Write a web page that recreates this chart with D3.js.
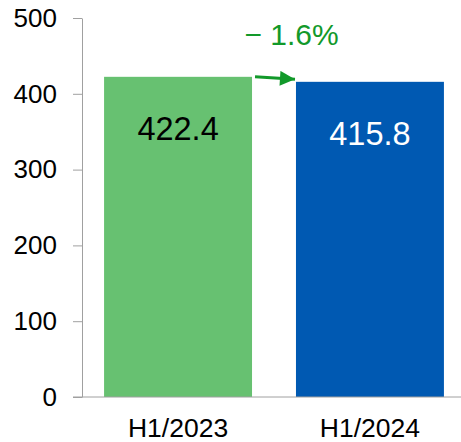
<!DOCTYPE html>
<html>
<head>
<meta charset="utf-8">
<script src="https://cdn.jsdelivr.net/npm/d3@7"></script>
<style>
  body { margin: 0; background: #fff; }
  svg { display: block; font-family: "Liberation Sans", Arial, sans-serif; }
</style>
</head>
<body>
<div id="chart"></div>
<script>
const categories = ["H1/2023", "H1/2024"];
const values = [422.4, 415.8];
const barColors = ["#67c171", "#0059b2"];
const labelColors = ["#000000", "#ffffff"];
const yTicks = [0, 100, 200, 300, 400, 500];
const changeLabel = "\u2212 1.6%";

const width = 461, height = 442;
const axisColor = "#a0a0a0";
const green = "#12992a";

const svg = d3.select("#chart").append("svg")
  .attr("width", width)
  .attr("height", height);

// y scale: 0 sits at the baseline, 500 near the top
const y = d3.scaleLinear().domain([0, 500]).range([397, 18]);

// band scale runs past the right edge so the bars end where they do in the picture
const x = d3.scaleBand()
  .domain(categories)
  .range([82, 466])
  .paddingInner(0.229)
  .paddingOuter(0.115);

// bars
svg.selectAll("rect.bar")
  .data(values)
  .enter()
  .append("rect")
  .attr("class", "bar")
  .attr("x", (d, i) => x(categories[i]))
  .attr("y", d => y(d))
  .attr("width", x.bandwidth())
  .attr("height", d => y(0) - y(d))
  .attr("fill", (d, i) => barColors[i]);

// value labels inside the bars
svg.selectAll("text.value")
  .data(values)
  .enter()
  .append("text")
  .attr("class", "value")
  .attr("x", (d, i) => x(categories[i]) + x.bandwidth() / 2)
  .attr("y", d => y(d) + 63.5)
  .attr("text-anchor", "middle")
  .attr("font-size", 32.5)
  .attr("fill", (d, i) => labelColors[i])
  .text(d => d.toFixed(1));

// y axis
const yAxis = svg.append("g")
  .attr("transform", `translate(${x.range()[0]},0)`)
  .call(d3.axisLeft(y).tickValues(yTicks).tickSize(9).tickSizeOuter(0).tickPadding(16));
yAxis.select(".domain").attr("stroke", axisColor);
yAxis.selectAll(".tick line").attr("stroke", axisColor);
yAxis.selectAll(".tick text")
  .attr("font-size", 26)
  .attr("fill", "#000")
  .attr("font-family", "Liberation Sans, Arial, sans-serif");

// x axis baseline runs to the right edge
const xAxis = svg.append("g")
  .attr("transform", `translate(0,${y(0)})`)
  .call(d3.axisBottom(x).tickSize(0).tickPadding(21));
xAxis.select(".domain").remove();
xAxis.selectAll(".tick text")
  .attr("font-size", 26.5)
  .attr("fill", "#000")
  .attr("font-family", "Liberation Sans, Arial, sans-serif");
svg.append("line")
  .attr("x1", 73).attr("x2", width)
  .attr("y1", y(0)).attr("y2", y(0))
  .attr("stroke", axisColor);

// change arrow between the two bar tops
svg.append("defs").append("marker")
  .attr("id", "head")
  .attr("viewBox", "0 0 10 10")
  .attr("refX", 10).attr("refY", 5)
  .attr("markerWidth", 5.5).attr("markerHeight", 5)
  .attr("orient", "auto")
  .append("path")
  .attr("d", "M0,0 L10,5 L0,10 Z")
  .attr("fill", green);

const x0 = x(categories[0]) + x.bandwidth() + 3;
const x1 = x(categories[1]);
svg.append("line")
  .attr("x1", x0).attr("y1", y(values[0]))
  .attr("x2", x1 - 1).attr("y2", y(values[1]) - 2.5)
  .attr("stroke", green)
  .attr("stroke-width", 3)
  .attr("marker-end", "url(#head)");

svg.append("text")
  .attr("x", (x0 + x1) / 2 + 16)
  .attr("y", 45)
  .attr("text-anchor", "middle")
  .attr("font-size", 30)
  .attr("fill", green)
  .text(changeLabel);
</script>
</body>
</html>
